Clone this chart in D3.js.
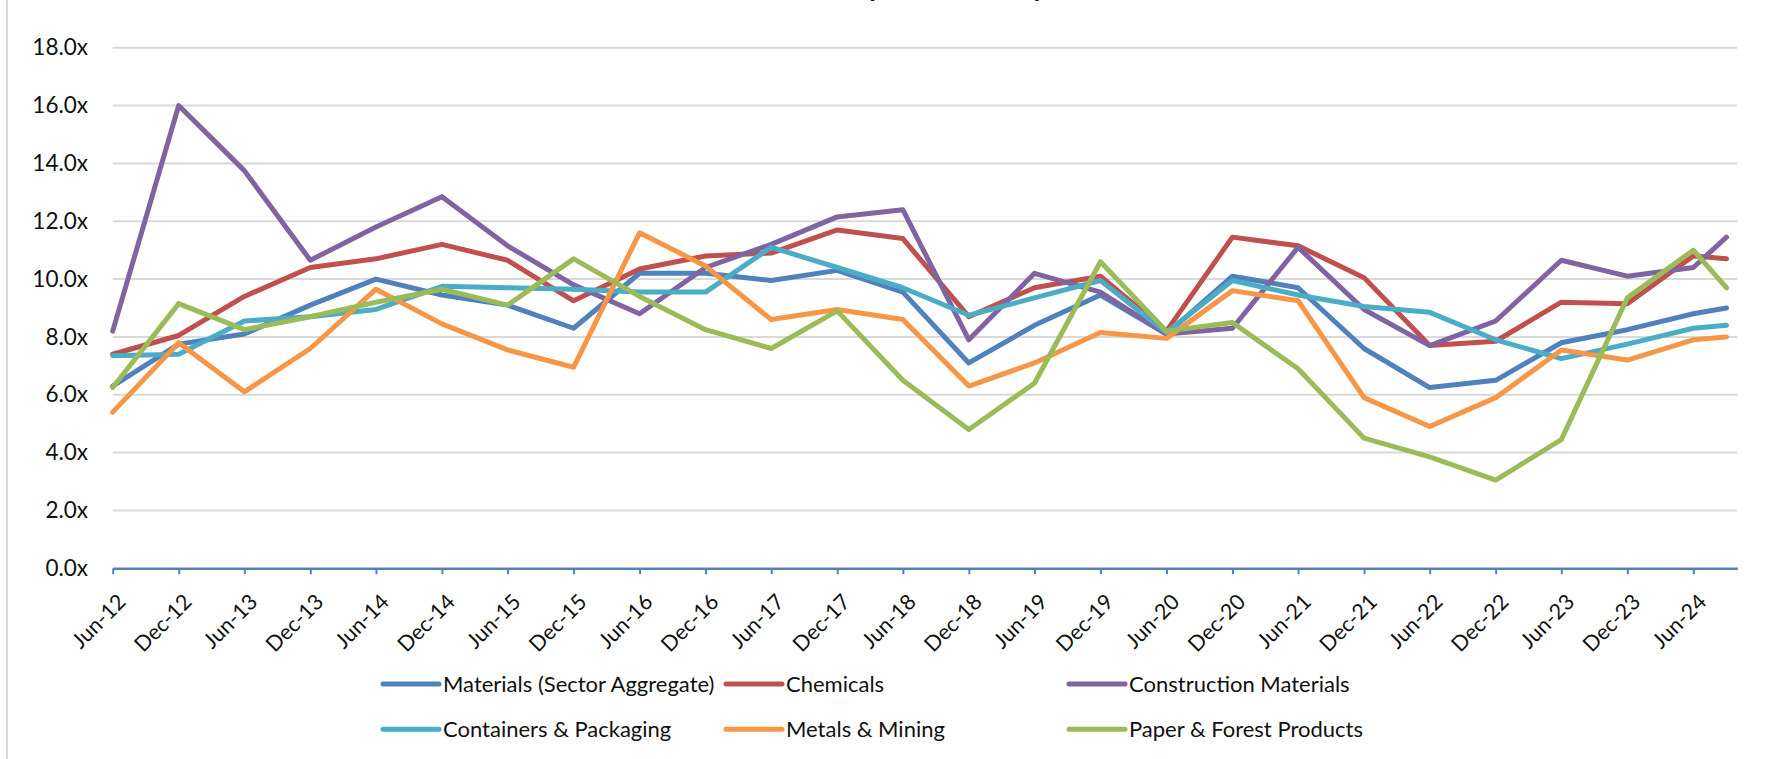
<!DOCTYPE html>
<html>
<head>
<meta charset="utf-8">
<script src="https://cdn.jsdelivr.net/npm/d3@7"></script>
<style>
  body { margin: 0; background: #fff; overflow: hidden; }
  text { font-family: Lato, "Open Sans", sans-serif; fill: #111; }
</style>
</head>
<body>
<script>
//Declare consts/global variables
    const width = 1765;
    const height = 759;
    const plotLeft = 112.7, plotRight = 1737.3, plotTop = 47.7, plotBottom = 568.3;

//Data
    const periods = ["Jun-12","Dec-12","Jun-13","Dec-13","Jun-14","Dec-14","Jun-15","Dec-15",
                     "Jun-16","Dec-16","Jun-17","Dec-17","Jun-18","Dec-18","Jun-19","Dec-19",
                     "Jun-20","Dec-20","Jun-21","Dec-21","Jun-22","Dec-22","Jun-23","Dec-23",
                     "Jun-24","Sep-24"];
    const axisEnd = "Oct-24";
    const tickLabels = ["Jun-12","Dec-12","Jun-13","Dec-13","Jun-14","Dec-14","Jun-15","Dec-15",
                        "Jun-16","Dec-16","Jun-17","Dec-17","Jun-18","Dec-18","Jun-19","Dec-19",
                        "Jun-20","Dec-20","Jun-21","Dec-21","Jun-22","Dec-22","Jun-23","Dec-23","Jun-24"];
    const yTicks = [0, 2, 4, 6, 8, 10, 12, 14, 16, 18];

    const seriesNames = ["Materials (Sector Aggregate)", "Chemicals", "Construction Materials",
                         "Containers & Packaging", "Metals & Mining", "Paper & Forest Products"];
    const seriesColors = ["#4F81BD", "#C0504D", "#8064A2", "#4BACC6", "#F79646", "#9BBB59"];

    const materials    = [6.3, 7.75, 8.1, 9.1, 10.0, 9.45, 9.1, 8.3, 10.2, 10.2, 9.95, 10.3, 9.55, 7.1, 8.4, 9.45, 8.1, 10.1, 9.7, 7.6, 6.25, 6.5, 7.8, 8.25, 8.8, 9.0];
    const chemicals    = [7.4, 8.05, 9.4, 10.4, 10.7, 11.2, 10.65, 9.25, 10.35, 10.8, 10.9, 11.7, 11.4, 8.7, 9.7, 10.1, 8.2, 11.45, 11.15, 10.05, 7.7, 7.85, 9.2, 9.15, 10.8, 10.7];
    const construction = [8.2, 16.0, 13.75, 10.65, 11.8, 12.85, 11.15, 9.8, 8.8, 10.4, 11.2, 12.15, 12.4, 7.9, 10.2, 9.55, 8.1, 8.3, 11.1, 8.95, 7.7, 8.55, 10.65, 10.1, 10.4, 11.45];
    const containers   = [7.35, 7.4, 8.55, 8.7, 8.95, 9.75, 9.7, 9.65, 9.55, 9.55, 11.1, 10.4, 9.7, 8.75, 9.35, 9.95, 8.15, 9.95, 9.45, 9.05, 8.85, 7.9, 7.25, 7.75, 8.3, 8.4];
    const metals       = [5.4, 7.8, 6.1, 7.6, 9.65, 8.45, 7.55, 6.95, 11.6, 10.45, 8.6, 8.95, 8.6, 6.3, 7.1, 8.15, 7.95, 9.6, 9.25, 5.9, 4.9, 5.9, 7.55, 7.2, 7.9, 8.0];
    const paper        = [6.25, 9.15, 8.25, 8.7, 9.2, 9.65, 9.1, 10.7, 9.4, 8.25, 7.6, 8.9, 6.5, 4.8, 6.4, 10.6, 8.2, 8.5, 6.9, 4.5, 3.85, 3.05, 4.45, 9.35, 11.0, 9.7];

    const seriesValues = [materials, chemicals, construction, containers, metals, paper];
    const titleText = "EBITDA Multiples \u2013 Industry Medians";

    const parseDate = d3.timeParse("%b-%y");
    const dates = periods.map(parseDate);

//Scales
    const xScale = d3.scaleTime()
                     .domain([dates[0], parseDate(axisEnd)])
                     .range([plotLeft, plotRight]);

    const yScale = d3.scaleLinear()
                     .domain([0, 18])
                     .range([plotBottom, plotTop]);

//SVG
    const svg = d3.select("body")
                  .append("svg")
                  .attr("width", width)
                  .attr("height", height);

    // left border of the chart area
    svg.append("line")
       .attr("x1", 7).attr("x2", 7)
       .attr("y1", 0).attr("y2", height)
       .attr("stroke", "#D9D9D9")
       .attr("stroke-width", 2);

    // title, sitting mostly above the visible area (only descenders show, as in the source)
    const title = svg.append("text")
                     .attr("y", -3.5)
                     .style("font-size", "27px")
                     .style("font-weight", "bold")
                     .text(titleText);
    const tNode = title.node();
    const pIdx = titleText.indexOf("p");
    const pOffset = tNode.getSubStringLength(0, pIdx) + tNode.getSubStringLength(pIdx, 1) / 2;
    title.attr("x", 877 - pOffset);

//Gridlines
    svg.append("g")
       .selectAll("line")
       .data(yTicks.filter(d => d > 0))
       .enter()
       .append("line")
       .attr("x1", plotLeft)
       .attr("x2", plotRight)
       .attr("y1", d => yScale(d))
       .attr("y2", d => yScale(d))
       .attr("stroke", "#D9D9D9")
       .attr("stroke-width", 2);

//Axes
    const leftAxis = d3.axisLeft(yScale)
                       .tickValues(yTicks)
                       .tickSize(0)
                       .tickPadding(plotLeft - 88)
                       .tickFormat(d => d3.format(".1f")(d) + "x");

    const yAxisG = svg.append("g")
                      .attr("transform", "translate(" + plotLeft + ",0)")
                      .call(leftAxis);
    yAxisG.select(".domain").remove();
    yAxisG.selectAll("text")
          .style("font-size", "22.5px")
          .style("font-family", "Lato, sans-serif")
          .attr("fill", "#111");

    const bottomAxis = d3.axisBottom(xScale)
                         .tickValues(tickLabels.map(parseDate))
                         .tickSize(6)
                         .tickSizeOuter(0)
                         .tickFormat(d3.timeFormat("%b-%y"));

    const xAxisG = svg.append("g")
                      .attr("transform", "translate(0," + plotBottom + ")")
                      .call(bottomAxis);
    xAxisG.select(".domain")
          .attr("stroke", "#4F81BD")
          .attr("stroke-width", 2.5);
    xAxisG.selectAll(".tick line")
          .attr("stroke", "#4F81BD")
          .attr("stroke-width", 2);
    xAxisG.selectAll(".tick text")
          .attr("text-anchor", "end")
          .attr("y", 0)
          .attr("dy", "0.72em")
          .attr("transform", "translate(3,24) rotate(-45)")
          .style("font-size", "21.5px")
          .style("font-family", "Lato, sans-serif")
          .attr("fill", "#111");

//Lines
    const line = d3.line()
                   .x((d, i) => xScale(dates[i]))
                   .y(d => yScale(d));

    svg.append("g")
       .selectAll("path")
       .data(seriesValues)
       .enter()
       .append("path")
       .attr("d", d => line(d))
       .attr("fill", "none")
       .attr("stroke", (d, i) => seriesColors[i])
       .attr("stroke-width", 5)
       .attr("stroke-linejoin", "round")
       .attr("stroke-linecap", "round");

//Legend
    const legendCols = [383, 726, 1069];
    const legendRows = [684, 729.3];

    const legend = svg.append("g")
                      .selectAll("g")
                      .data(seriesNames)
                      .enter()
                      .append("g")
                      .attr("transform", (d, i) => "translate(" + legendCols[i % 3] + "," + legendRows[Math.floor(i / 3)] + ")");

    legend.append("line")
          .attr("x1", 0).attr("x2", 56)
          .attr("y1", 0).attr("y2", 0)
          .attr("stroke", (d, i) => seriesColors[i])
          .attr("stroke-width", 5)
          .attr("stroke-linecap", "round");

    legend.append("text")
          .attr("x", 60)
          .attr("y", 0)
          .attr("dy", "0.35em")
          .style("font-size", "22px")
          .text(d => d);
</script>
</body>
</html>
